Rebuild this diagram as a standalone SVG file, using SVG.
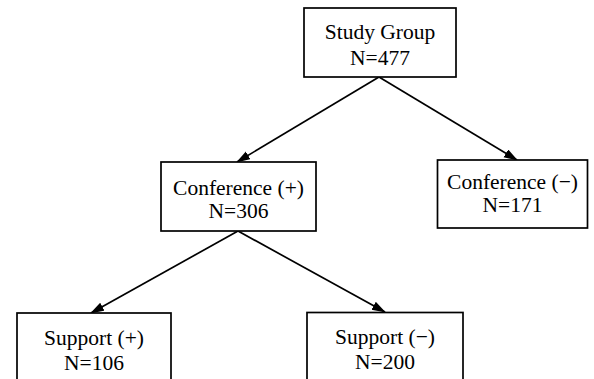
<svg xmlns="http://www.w3.org/2000/svg" width="594" height="379" viewBox="0 0 594 379">
<style>
.box{fill:#fff;stroke:#000;stroke-width:1.7}
.t{font-family:"Liberation Serif","Times New Roman",serif;font-size:21.5px;fill:#000;text-anchor:middle}
.c{stroke:#000;stroke-width:1.7;fill:none}
</style>
<defs>
<marker id="ah" markerUnits="userSpaceOnUse" markerWidth="14" markerHeight="10" refX="13" refY="4.5" orient="auto">
<path d="M0,0 L14,4.5 L0,9 Z" fill="#000"/>
</marker>
</defs>
<rect width="594" height="379" fill="#fff"/>
<g id="connectors">
<line class="c" x1="379" y1="77" x2="237" y2="162" marker-end="url(#ah)"/>
<line class="c" x1="379" y1="77" x2="517" y2="160" marker-end="url(#ah)"/>
<line class="c" x1="238" y1="231" x2="91" y2="313" marker-end="url(#ah)"/>
<line class="c" x1="238" y1="231" x2="385" y2="312" marker-end="url(#ah)"/>
</g>
<g id="study">
<rect class="box" x="304" y="8" width="152" height="69"/>
<text class="t" x="380" y="38.5">Study Group</text>
<text class="t" x="380" y="65">N=477</text>
</g>
<g id="confplus">
<rect class="box" x="161" y="162" width="155" height="69"/>
<text class="t" x="238.5" y="195">Conference (+)</text>
<text class="t" x="238.5" y="217.5">N=306</text>
</g>
<g id="confminus">
<rect class="box" x="437.5" y="160" width="150" height="68"/>
<text class="t" x="512.5" y="188.5">Conference (−)</text>
<text class="t" x="512.5" y="211.5">N=171</text>
</g>
<g id="supplus">
<rect class="box" x="17" y="313" width="154" height="80"/>
<text class="t" x="94" y="345">Support (+)</text>
<text class="t" x="94" y="370">N=106</text>
</g>
<g id="supminus">
<rect class="box" x="307" y="312.5" width="156" height="80"/>
<text class="t" x="385" y="343.5">Support (−)</text>
<text class="t" x="385" y="368.5">N=200</text>
</g>
</svg>
